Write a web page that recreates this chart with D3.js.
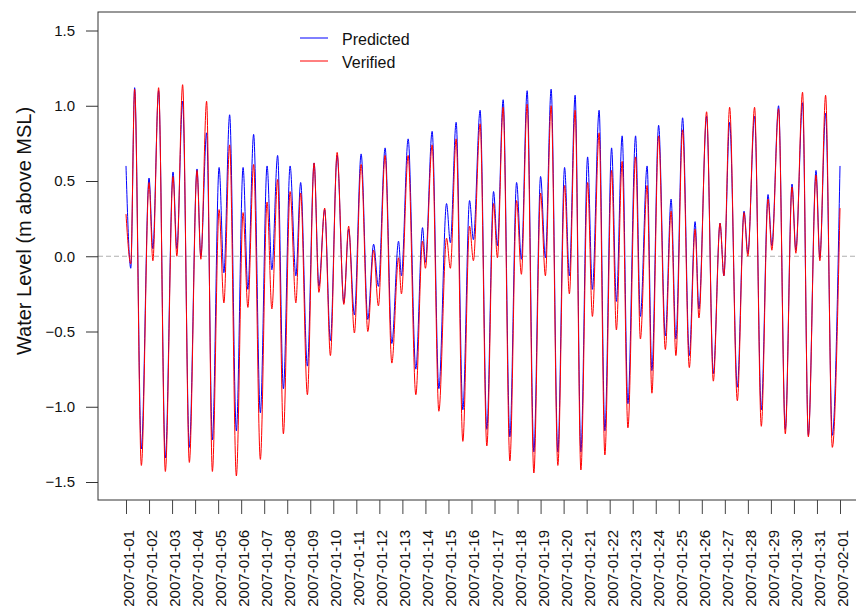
<!DOCTYPE html>
<html>
<head>
<meta charset="utf-8">
<script src="https://cdn.jsdelivr.net/npm/d3@7"></script>
<style>
    html, body { margin: 0; padding: 0; background: #fff; }
    #container { width: 856px; height: 608px; overflow: hidden; }
    text { font-family: "Liberation Sans", Arial, sans-serif; fill: #111; }
</style>
</head>
<body>
<div id="container"></div>
<script>
const extremeHours = [0, 5, 9, 16, 24, 28, 34, 41, 49, 53, 59, 66, 74, 78, 84, 90,
    97, 102, 108, 115, 122, 127, 133, 140, 147, 152, 158, 164, 171, 177, 182, 189,
    196, 201, 207, 213, 220, 227, 232, 238, 245, 252, 258, 263, 270, 277, 284, 287,
    294, 302, 309, 312, 319, 326, 334, 338, 344, 351, 358, 362, 369, 376, 383, 387,
    393, 400, 407, 412, 418, 425, 432, 437, 443, 450, 457, 462, 468, 474, 481, 486,
    493, 499, 506, 511, 517, 523, 531, 536, 543, 548, 555, 562, 568, 573, 580, 587,
    593, 597, 605, 612, 619, 623, 629, 637, 644, 648, 655, 662, 669, 673, 680, 687,
    694, 698, 705, 711, 719, 723, 729, 736, 744];

const predicted = [0.60, -0.08, 1.12, -1.28, 0.52, 0.05, 1.10, -1.34, 0.56, 0.05, 1.03, -1.27, 0.58, 0.00, 0.82, -1.22,
    0.59, -0.11, 0.94, -1.16, 0.59, -0.22, 0.81, -1.04, 0.60, -0.09, 0.67, -0.88, 0.60, -0.13, 0.49, -0.73,
    0.62, -0.20, 0.31, -0.56, 0.67, -0.31, 0.18, -0.39, 0.68, -0.42, 0.08, -0.20, 0.72, -0.58, 0.10, -0.13,
    0.78, -0.75, 0.19, -0.04, 0.83, -0.88, 0.35, 0.09, 0.89, -1.02, 0.37, 0.11, 0.97, -1.15, 0.43, 0.07,
    1.04, -1.20, 0.49, -0.02, 1.10, -1.30, 0.53, -0.01, 1.11, -1.30, 0.59, -0.13, 1.07, -1.30, 0.66, -0.22,
    0.97, -1.16, 0.72, -0.30, 0.80, -0.98, 0.80, -0.40, 0.60, -0.76, 0.87, -0.53, 0.38, -0.55, 0.92, -0.66,
    0.23, -0.35, 0.93, -0.78, 0.22, -0.13, 0.89, -0.87, 0.30, 0.02, 0.93, -1.02, 0.41, 0.07, 1.00, -1.15,
    0.48, 0.04, 1.02, -1.19, 0.57, -0.01, 0.95, -1.19, 0.60];

const verified = [0.28, -0.05, 1.11, -1.39, 0.49, -0.03, 1.12, -1.43, 0.53, 0.00, 1.14, -1.37, 0.57, -0.02, 1.03, -1.43,
    0.31, -0.31, 0.74, -1.46, 0.29, -0.34, 0.61, -1.35, 0.36, -0.35, 0.51, -1.18, 0.43, -0.31, 0.42, -0.92,
    0.62, -0.24, 0.32, -0.66, 0.69, -0.32, 0.20, -0.51, 0.61, -0.50, 0.04, -0.33, 0.67, -0.71, -0.01, -0.25,
    0.67, -0.92, 0.10, -0.08, 0.74, -1.03, 0.12, -0.08, 0.78, -1.23, 0.20, -0.03, 0.88, -1.26, 0.35, -0.01,
    0.99, -1.36, 0.37, -0.12, 1.01, -1.44, 0.42, -0.13, 1.00, -1.39, 0.47, -0.25, 0.97, -1.42, 0.49, -0.40,
    0.82, -1.32, 0.57, -0.49, 0.63, -1.14, 0.66, -0.55, 0.47, -0.91, 0.80, -0.62, 0.30, -0.66, 0.84, -0.74,
    0.18, -0.41, 0.96, -0.83, 0.22, -0.13, 0.99, -0.96, 0.29, 0.00, 0.99, -1.13, 0.38, 0.04, 0.98, -1.18,
    0.46, 0.02, 1.09, -1.20, 0.54, -0.03, 1.07, -1.27, 0.32];

const yTicks = [-1.5, -1.0, -0.5, 0.0, 0.5, 1.0, 1.5];
const seriesNames = ["Predicted", "Verified"];
const seriesColors = ["#0000ff", "#ff0000"];

const start = Date.UTC(2007, 0, 1);
const hourMs = 3600 * 1000;

function drawTideChart() {
    const W = 856, H = 608;
    const box = { left: 98, top: 12, right: 860, bottom: 500 };

    const svg = d3.select("#container").append("svg")
        .attr("width", W).attr("height", H);

    const x = d3.scaleUtc()
        .domain([new Date(start), new Date(Date.UTC(2007, 1, 1))])
        .range([126, 840]);
    const y = d3.scaleLinear().domain([-1.5, 1.5]).range([482, 30.5]);

    // zero reference
    svg.append("line")
        .attr("x1", box.left).attr("x2", box.right)
        .attr("y1", y(0)).attr("y2", y(0))
        .attr("stroke", "#b0b0b0").attr("stroke-width", 1.2)
        .attr("stroke-dasharray", "5,3");

    const line = d3.line()
        .x(d => x(new Date(start + d[0] * hourMs)))
        .y(d => y(d[1]))
        .curve(d3.curveMonotoneX);

    [predicted, verified].forEach((vals, i) => {
        svg.append("path")
            .datum(extremeHours.map((h, j) => [h, vals[j]]))
            .attr("d", line)
            .attr("fill", "none")
            .attr("stroke", seriesColors[i])
            .attr("stroke-width", 1);
    });

    // plot box
    svg.append("rect")
        .attr("x", box.left).attr("y", box.top)
        .attr("width", box.right - box.left).attr("height", box.bottom - box.top)
        .attr("fill", "none").attr("stroke", "#333").attr("stroke-width", 1);

    // y axis
    const yAxis = svg.append("g")
        .attr("transform", `translate(${box.left},0)`)
        .call(d3.axisLeft(y).tickValues(yTicks).tickFormat(d3.format(".1f")).tickSize(12).tickPadding(11));
    yAxis.select(".domain").remove();
    yAxis.selectAll(".tick line").attr("stroke", "#333");
    yAxis.selectAll(".tick text").attr("font-size", 15).attr("font-family", "Liberation Sans, Arial, sans-serif")
        .attr("fill", "#111");

    // x axis, one tick per day
    const days = d3.utcDay.range(new Date(start), new Date(Date.UTC(2007, 1, 2)));
    const xAxis = svg.append("g")
        .attr("transform", `translate(0,${box.bottom})`)
        .call(d3.axisBottom(x).tickValues(days).tickFormat(d3.utcFormat("%Y-%m-%d")).tickSize(14));
    xAxis.select(".domain").remove();
    xAxis.selectAll(".tick line").attr("stroke", "#444");
    xAxis.selectAll(".tick text")
        .attr("font-size", 15).attr("font-family", "Liberation Sans, Arial, sans-serif").attr("fill", "#111")
        .attr("transform", "rotate(-90)")
        .attr("text-anchor", "end")
        .attr("x", -30).attr("y", 0).attr("dy", "0.5em");

    // y title
    svg.append("text")
        .attr("transform", "translate(31,231) rotate(-90)")
        .attr("text-anchor", "middle")
        .attr("font-size", 20)
        .text("Water Level (m above MSL)");

    // legend
    const legend = svg.append("g");
    seriesNames.forEach((name, i) => {
        const ly = 38 + i * 23;
        legend.append("line")
            .attr("x1", 300).attr("x2", 328).attr("y1", ly).attr("y2", ly)
            .attr("stroke", seriesColors[i]).attr("stroke-width", 1);
        legend.append("text")
            .attr("x", 342).attr("y", ly + 7)
            .attr("font-size", 16)
            .text(name);
    });
}

drawTideChart();
</script>
</body>
</html>
